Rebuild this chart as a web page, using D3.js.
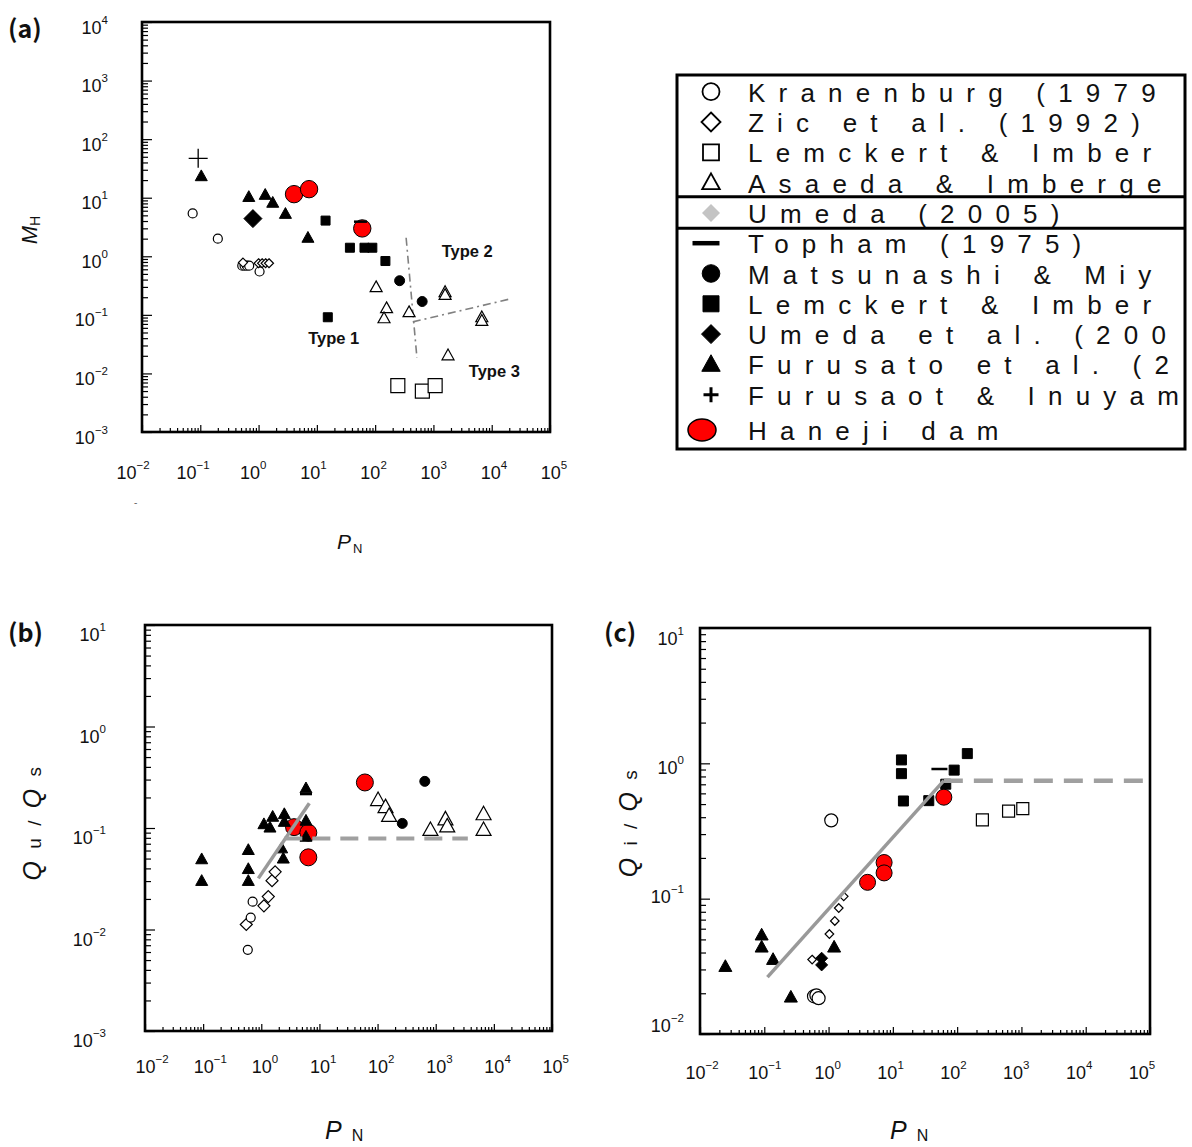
<!DOCTYPE html>
<html><head><meta charset="utf-8">
<script src="https://cdn.jsdelivr.net/npm/d3@7"></script>
<style>body{margin:0;background:#fff}svg{display:block}</style>
</head><body>
<svg id="chart" width="1192" height="1147"></svg>
<script>
// ---------------- DATA ----------------
// tick values
const xTicks = [1e-2, 1e-1, 1, 1e1, 1e2, 1e3, 1e4, 1e5];
const yTicksA = [1e-3, 1e-2, 1e-1, 1, 1e1, 1e2, 1e3, 1e4];
const yTicksB = [1e-3, 1e-2, 1e-1, 1, 1e1];
const yTicksC = [1e-2, 1e-1, 1, 1e1];

// Panel (a): M_H vs P_N
const a_kranenburg_x = [0.074, 0.20, 1.04, 0.525, 0.575, 0.63, 0.69];
const a_kranenburg_y = [5.4, 2.0, 0.55, 0.69, 0.69, 0.69, 0.69];
const a_zic_x = [0.54, 1.0, 1.15, 1.32, 1.51];
const a_zic_y = [0.78, 0.76, 0.76, 0.76, 0.76];
const a_lemckertO_x = [245, 646, 1070];
const a_lemckertO_y = [0.0062, 0.0050, 0.0062];
const a_asaeda_x = [104, 157, 142, 382, 1585, 1585, 6760, 6760, 1780];
const a_asaeda_y = [0.297, 0.130, 0.0875, 0.111, 0.245, 0.219, 0.091, 0.079, 0.0204];
const a_umedaEtAl_x = [0.80];
const a_umedaEtAl_y = [4.4];
const a_furusato_x = [0.104, 0.68, 1.30, 1.75, 2.89, 7.03];
const a_furusato_y = [23.3, 10.3, 11.2, 8.2, 5.3, 2.07];
const a_furusaotInuyama_x = [0.092];
const a_furusaotInuyama_y = [47];
const a_lemckertF_x = [14.1, 36.9, 65.6, 89.5, 150, 15.4];
const a_lemckertF_y = [4.07, 1.40, 1.40, 1.40, 0.83, 0.091];
const a_matsunashi_x = [263, 641];
const a_matsunashi_y = [0.383, 0.169];
const a_haneji_x = [4.06, 7.35, 60.1];
const a_haneji_y = [11.5, 14.0, 2.99];
const a_topham_x = [56];
const a_topham_y = [3.9];
const a_bound1_x = [340, 521];
const a_bound1_y = [2.07, 0.0186];
const a_bound2_x = [443, 20750];
const a_bound2_y = [0.0759, 0.187];
const a_type_text = ["Type 1", "Type 2", "Type 3"];
const a_type_x = [19.5, 3800, 11100];
const a_type_y = [0.0403, 1.23, 0.011];

// Panel (b): Qu/Qs vs P_N
const b_zic_x = [0.552, 1.11, 1.32, 1.53, 1.73];
const b_zic_y = [0.0112, 0.0171, 0.0211, 0.0303, 0.0370];
const b_kranenburg_x = [0.586, 0.658, 0.71];
const b_kranenburg_y = [0.0063, 0.0131, 0.0188];
const b_asaeda_x = [102, 137, 158, 811, 1469, 1578, 6650, 6650];
const b_asaeda_y = [0.189, 0.161, 0.132, 0.096, 0.122, 0.104, 0.137, 0.096];
const b_matsunashi_x = [266, 649];
const b_matsunashi_y = [0.111, 0.288];
const b_haneji_x = [3.66, 6.44, 6.44, 60.5];
const b_haneji_y = [0.102, 0.090, 0.0514, 0.281];
const b_furusato_x = [0.0944, 0.0944, 0.598, 0.598, 0.598, 1.11, 1.41, 1.57, 2.49, 2.49, 2.24, 2.39, 5.87, 5.87, 5.87];
const b_furusato_y = [0.0492, 0.0301, 0.0607, 0.0394, 0.0301, 0.109, 0.101, 0.129, 0.137, 0.115, 0.063, 0.050, 0.118, 0.082, 0.246];
const b_topham_x = [5.87];
const b_topham_y = [0.216];
const b_fit_x = [0.89, 6.7];
const b_fit_y = [0.0319, 0.175];
const b_const_x = [2.49, 3565];
const b_const_y = [0.079, 0.079];

// Panel (c): Qi/Qs vs P_N
const c_furusato_x = [0.0248, 0.091, 0.091, 0.137, 0.259, 1.22];
const c_furusato_y = [0.0315, 0.0538, 0.0438, 0.0355, 0.0187, 0.0438];
const c_kranenburg_x = [0.593, 0.646, 0.70, 1.10];
const c_kranenburg_y = [0.0190, 0.0193, 0.0184, 0.379];
const c_zic_x = [0.555, 1.03, 1.25, 1.44, 1.72];
const c_zic_y = [0.0355, 0.0548, 0.0684, 0.0853, 0.104];
const c_umedaEtAl_x = [0.78, 0.78];
const c_umedaEtAl_y = [0.0363, 0.0324];
const c_lemckertO_x = [247, 631, 1050];
const c_lemckertO_y = [0.382, 0.444, 0.462];
const c_lemckertF_x = [13.6, 13.6, 14.6, 36.2, 66.5, 89.9, 144];
const c_lemckertF_y = [1.06, 0.839, 0.527, 0.530, 0.701, 0.891, 1.18];
const c_haneji_x = [4.04, 7.31, 7.31, 62.1];
const c_haneji_y = [0.132, 0.185, 0.155, 0.562];
const c_topham_x = [53];
const c_topham_y = [0.908];
const c_fit_x = [0.112, 62.1];
const c_fit_y = [0.0263, 0.745];
const c_const_x = [62.1, 1e5];
const c_const_y = [0.745, 0.745];

// Legend (visible part of each entry)
const legendLabels = ["Kranenburg (1979", "Zic et al. (1992)", "Lemckert & Imber", "Asaeda & Imberge",
  "Umeda (2005)", "Topham (1975)", "Matsunashi & Miy", "Lemckert & Imber", "Umeda et al. (200",
  "Furusato et al. (2", "Furusaot & Inuyam", "Haneji dam"];
const legendKeys = ["openCircle", "openDiamond", "openSquare", "openTriangle", "grayDiamond", "bar",
  "filledCircle", "filledSquare", "filledDiamond", "filledTriangle", "plus", "haneji"];

// ---------------- STYLES / HELPERS ----------------
const STY = {
  openCircle:    {shape: "circle",   fill: "#fff", stroke: "#000", sw: 1.2},
  openDiamond:   {shape: "diamond",  fill: "#fff", stroke: "#000", sw: 1.2},
  openSquare:    {shape: "square",   fill: "#fff", stroke: "#000", sw: 1.2},
  openTriangle:  {shape: "triangle", fill: "#fff", stroke: "#000", sw: 1.2},
  grayDiamond:   {shape: "diamond",  fill: "#c4c4c4", stroke: "none", sw: 0},
  filledCircle:  {shape: "circle",   fill: "#000", stroke: "#000", sw: 1},
  filledSquare:  {shape: "square",   fill: "#000", stroke: "#000", sw: 1},
  filledDiamond: {shape: "diamond",  fill: "#000", stroke: "#000", sw: 1},
  filledTriangle:{shape: "triangle", fill: "#000", stroke: "#000", sw: 1},
  plus:          {shape: "plus",     fill: "none", stroke: "#000", sw: 1.3},
  bar:           {shape: "bar",      fill: "none", stroke: "#000", sw: 2.5},
  haneji:        {shape: "circle",   fill: "#ff0000", stroke: "#000", sw: 1}
};
function shapePath(shape, s) {
  switch (shape) {
    case "circle": return `M${-s},0a${s},${s} 0 1,0 ${2*s},0a${s},${s} 0 1,0 ${-2*s},0Z`;
    case "square": return `M${-s},${-s}H${s}V${s}H${-s}Z`;
    case "diamond": return `M0,${-s}L${s},0L0,${s}L${-s},0Z`;
    case "triangle": return `M0,${-s*1.05}L${s},${s*0.75}L${-s},${s*0.75}Z`;
    case "plus": return `M${-s},0H${s}M0,${-s}V${s}`;
    case "bar": return `M${-s},0H${s}`;
  }
}
const FONT = "'Liberation Sans', Arial, sans-serif";
const svg = d3.select("#chart").attr("font-family", FONT);
svg.append("rect").attr("width", 1192).attr("height", 1147).attr("fill", "#fff");

function expStr(v) {
  const e = Math.round(Math.log10(v));
  return e < 0 ? "\u2212" + Math.abs(e) : String(e);
}
function supLabel(g, x, y, v, anchor) {
  const t = g.append("text").attr("x", x).attr("y", y).attr("text-anchor", anchor)
    .attr("font-size", 18).attr("fill", "#111");
  t.append("tspan").text("10");
  t.append("tspan").attr("dy", -10).attr("font-size", 11.5).text(expStr(v));
}
function minorTicks(domain) {
  const out = [];
  const e0 = Math.round(Math.log10(domain[0])), e1 = Math.round(Math.log10(domain[1]));
  for (let e = e0; e < e1; e++) for (let k = 2; k <= 9; k++) out.push(k * Math.pow(10, e));
  return out;
}

function panel(cfg) {
  const g = svg.append("g");
  const xs = d3.scaleLog().domain([xTicks[0], xTicks[xTicks.length - 1]]).range([cfg.left, cfg.right]);
  const ys = d3.scaleLog().domain([cfg.yTicks[0], cfg.yTicks[cfg.yTicks.length - 1]]).range([cfg.bottom, cfg.top]);
  const axY = (vals, len) => g.append("g").attr("transform", `translate(${cfg.left},0)`)
    .call(d3.axisLeft(ys).tickValues(vals).tickSize(-len).tickFormat(""))
    .call(a => { a.select(".domain").remove(); a.selectAll("line").attr("stroke", "#000").attr("stroke-width", 1.2); });
  const axX = (vals, len) => g.append("g").attr("transform", `translate(0,${cfg.bottom})`)
    .call(d3.axisBottom(xs).tickValues(vals).tickSize(-len).tickFormat(""))
    .call(a => { a.select(".domain").remove(); a.selectAll("line").attr("stroke", "#000").attr("stroke-width", 1.2); });
  axY(minorTicks(ys.domain()), 6);
  axY(cfg.yTicks, 10);
  axX(minorTicks(xs.domain()), 4);
  axX(xTicks, 7);
  g.append("rect").attr("x", cfg.left).attr("y", cfg.top)
    .attr("width", cfg.right - cfg.left).attr("height", cfg.bottom - cfg.top)
    .attr("fill", "none").attr("stroke", "#000").attr("stroke-width", 2.6);
  xTicks.forEach(v => cfg.xLabel(g, xs, v));
  cfg.yTicks.forEach(v => cfg.yLabel(g, ys, v));
  const clip = "clip-" + cfg.id;
  g.append("clipPath").attr("id", clip).append("rect")
    .attr("x", cfg.left).attr("y", cfg.top).attr("width", cfg.right - cfg.left).attr("height", cfg.bottom - cfg.top);
  const plot = g.append("g").attr("clip-path", `url(#${clip})`);
  const drawLines = () => (cfg.lines || []).forEach(L => {
    plot.append("path").attr("d", d3.line().x(i => xs(L.x[i])).y(i => ys(L.y[i]))(d3.range(L.x.length)))
      .attr("fill", "none").attr("stroke", L.color).attr("stroke-width", L.width)
      .attr("stroke-dasharray", L.dash || null);
  });
  if (!cfg.linesOnTop) drawLines();
  cfg.series.forEach(S => {
    const st = STY[S.style];
    plot.append("g").selectAll("path").data(d3.range(S.x.length)).join("path")
      .attr("transform", i => `translate(${xs(S.x[i])},${ys(S.y[i])})`)
      .attr("d", shapePath(st.shape, S.size))
      .attr("fill", st.fill).attr("stroke", st.stroke).attr("stroke-width", S.sw || st.sw);
  });
  if (cfg.linesOnTop) drawLines();
  (cfg.notes || []).forEach(N => {
    g.append("text").attr("x", xs(N.x)).attr("y", ys(N.y) + 6).attr("text-anchor", "middle")
      .attr("font-size", 16.5).attr("font-weight", "bold").attr("fill", "#111").text(N.t);
  });
  return {g, xs, ys};
}

// ---------------- PANEL (a) ----------------
const xLabA = d3.scaleLog().domain([1e-2, 1e5]).range([133, 554]);
panel({
  id: "a", left: 142, right: 550, top: 22, bottom: 432, yTicks: yTicksA,
  xLabel: (g, xs, v) => supLabel(g, xLabA(v), 479, v, "middle"),
  yLabel: (g, ys, v) => supLabel(g, 108, ys(v) + 11.5, v, "end"),
  lines: [
    {x: a_bound1_x, y: a_bound1_y, color: "#808080", width: 1.6, dash: "8,4,2,4"},
    {x: a_bound2_x, y: a_bound2_y, color: "#808080", width: 1.6, dash: "8,4,2,4"}
  ],
  series: [
    {x: a_kranenburg_x, y: a_kranenburg_y, style: "openCircle", size: 4.5},
    {x: a_zic_x, y: a_zic_y, style: "openDiamond", size: 4.5},
    {x: a_lemckertO_x, y: a_lemckertO_y, style: "openSquare", size: 7},
    {x: a_asaeda_x, y: a_asaeda_y, style: "openTriangle", size: 6},
    {x: a_umedaEtAl_x, y: a_umedaEtAl_y, style: "filledDiamond", size: 9},
    {x: a_furusato_x, y: a_furusato_y, style: "filledTriangle", size: 6},
    {x: a_furusaotInuyama_x, y: a_furusaotInuyama_y, style: "plus", size: 9.5},
    {x: a_lemckertF_x, y: a_lemckertF_y, style: "filledSquare", size: 4.5},
    {x: a_matsunashi_x, y: a_matsunashi_y, style: "filledCircle", size: 5},
    {x: a_haneji_x, y: a_haneji_y, style: "haneji", size: 8.7},
    {x: a_topham_x, y: a_topham_y, style: "bar", size: 6.5}
  ],
  notes: a_type_text.map((t, i) => ({t, x: a_type_x[i], y: a_type_y[i]}))
});

// ---------------- PANEL (b) ----------------
panel({
  id: "b", left: 145, right: 552, top: 625, bottom: 1031, yTicks: yTicksB, linesOnTop: true,
  xLabel: (g, xs, v) => supLabel(g, xs(v) - 9.5, 1073, v, "start"),
  yLabel: (g, ys, v) => supLabel(g, 106, ys(v) + 16, v, "end"),
  lines: [
    {x: b_fit_x, y: b_fit_y, color: "#999999", width: 3.5},
    {x: b_const_x, y: b_const_y, color: "#a0a0a0", width: 4, dash: "18,10"}
  ],
  series: [
    {x: b_zic_x, y: b_zic_y, style: "openDiamond", size: 6},
    {x: b_kranenburg_x, y: b_kranenburg_y, style: "openCircle", size: 4.5},
    {x: b_asaeda_x, y: b_asaeda_y, style: "openTriangle", size: 7.5},
    {x: b_matsunashi_x, y: b_matsunashi_y, style: "filledCircle", size: 5},
    {x: b_haneji_x, y: b_haneji_y, style: "haneji", size: 8.5},
    {x: b_furusato_x, y: b_furusato_y, style: "filledTriangle", size: 6},
    {x: b_topham_x, y: b_topham_y, style: "bar", size: 6}
  ]
});

// ---------------- PANEL (c) ----------------
const xLabC = d3.scaleLog().domain([1e-2, 1e5]).range([702, 1142]);
const yLabC = d3.scaleLog().domain([1e-2, 1e1]).range([1025.6, 638.6]);
panel({
  id: "c", left: 700, right: 1150, top: 628, bottom: 1034, yTicks: yTicksC, linesOnTop: true,
  xLabel: (g, xs, v) => supLabel(g, xLabC(v), 1079, v, "middle"),
  yLabel: (g, ys, v) => supLabel(g, 684, yLabC(v) + 6.5, v, "end"),
  lines: [
    {x: c_fit_x, y: c_fit_y, color: "#999999", width: 3.5},
    {x: c_const_x, y: c_const_y, color: "#a0a0a0", width: 4.5, dash: "19,11"}
  ],
  series: [
    {x: c_furusato_x, y: c_furusato_y, style: "filledTriangle", size: 6.5},
    {x: c_kranenburg_x, y: c_kranenburg_y, style: "openCircle", size: 6.5},
    {x: c_zic_x, y: c_zic_y, style: "openDiamond", size: 4.3},
    {x: c_umedaEtAl_x, y: c_umedaEtAl_y, style: "filledDiamond", size: 6},
    {x: c_lemckertO_x, y: c_lemckertO_y, style: "openSquare", size: 6},
    {x: c_lemckertF_x, y: c_lemckertF_y, style: "filledSquare", size: 5},
    {x: c_haneji_x, y: c_haneji_y, style: "haneji", size: 8},
    {x: c_topham_x, y: c_topham_y, style: "bar", size: 8}
  ]
});

// ---------------- TITLES / PANEL LABELS ----------------
function panelLetter(x, y, t) {
  svg.append("text").attr("x", x).attr("y", y).attr("font-size", 25).attr("font-weight", "bold")
    .attr("fill", "#111").attr("font-family", "'Noto Sans CJK JP', " + FONT).text(t);
}
panelLetter(8, 38, "(a)");
panelLetter(8, 642, "(b)");
panelLetter(604, 642, "(c)");

// (a) y title M_H
{
  const t = svg.append("text").attr("transform", "translate(37,230) rotate(-90)")
    .attr("text-anchor", "middle").attr("fill", "#111");
  t.append("tspan").attr("font-size", 22).attr("font-style", "italic").text("M");
  t.append("tspan").attr("font-size", 14).attr("dy", 3).text("H");
}
// (a) x title P_N
{
  const t = svg.append("text").attr("x", 337).attr("y", 549).attr("fill", "#111");
  t.append("tspan").attr("font-size", 21).attr("font-style", "italic").text("P");
  t.append("tspan").attr("font-size", 13).attr("dx", 2).attr("dy", 4).text("N");
}
svg.append("text").attr("x", 134).attr("y", 506).attr("font-size", 10).attr("fill", "#666").text("-");

function qTitle(x, y, sub) {
  const t = svg.append("text").attr("transform", `translate(${x},${y}) rotate(-90)`)
    .attr("text-anchor", "middle").attr("fill", "#111").attr("letter-spacing", 3.5);
  t.append("tspan").attr("font-size", 25).attr("font-style", "italic").text("Q");
  t.append("tspan").attr("font-size", 19).text(" " + sub + " / ");
  t.append("tspan").attr("font-size", 25).attr("font-style", "italic").text("Q");
  t.append("tspan").attr("font-size", 19).text(" s");
}
qTitle(41, 822, "u");
qTitle(637, 822, "i");

function pTitle(x, y) {
  const t = svg.append("text").attr("x", x).attr("y", y).attr("fill", "#111");
  t.append("tspan").attr("font-size", 25).attr("font-style", "italic").text("P");
  t.append("tspan").attr("font-size", 16).attr("dx", 10).attr("dy", 2).text("N");
}
pTitle(325, 1139);
pTitle(890, 1139);

// ---------------- LEGEND ----------------
{
  const L = {left: 677, right: 1185, top: 75, bottom: 449, sep: [196.7, 228.3]};
  const lg = svg.append("g");
  lg.append("rect").attr("x", L.left).attr("y", L.top).attr("width", L.right - L.left)
    .attr("height", L.bottom - L.top).attr("fill", "#fff");
  lg.append("clipPath").attr("id", "legclip").append("rect")
    .attr("x", L.left).attr("y", L.top).attr("width", L.right - L.left).attr("height", L.bottom - L.top);
  const rowY = i => 91.7 + i * 30.3 + (i === 11 ? 5 : 0);
  const symSize = {openCircle: 8.5, openDiamond: 9.5, openSquare: 8, openTriangle: 8.8, grayDiamond: 9,
    bar: 13.5, filledCircle: 8.8, filledSquare: 8, filledDiamond: 9.5, filledTriangle: 9.2, plus: 7.5};
  legendKeys.forEach((k, i) => {
    const y = rowY(i);
    if (k === "haneji") {
      lg.append("ellipse").attr("cx", 702).attr("cy", y).attr("rx", 14).attr("ry", 11)
        .attr("fill", "#ff0000").attr("stroke", "#000").attr("stroke-width", 1.5);
    } else {
      const st = STY[k];
      let sw = st.sw;
      if (k === "bar") sw = 4.5; else if (k === "plus") sw = 3; else if (st.fill === "#fff") sw = 1.8;
      lg.append("path").attr("transform", `translate(${k === "bar" ? 706 : 711},${y})`)
        .attr("d", shapePath(st.shape, symSize[k]))
        .attr("fill", st.fill).attr("stroke", st.stroke).attr("stroke-width", sw);
    }
    lg.append("text").attr("clip-path", "url(#legclip)").attr("x", 748).attr("y", y + 10)
      .attr("font-size", 26).attr("letter-spacing", 13.2).attr("fill", "#111").text(legendLabels[i]);
  });
  L.sep.forEach(y => lg.append("line").attr("x1", L.left).attr("x2", L.right).attr("y1", y).attr("y2", y)
    .attr("stroke", "#000").attr("stroke-width", 3));
  lg.append("rect").attr("x", L.left).attr("y", L.top).attr("width", L.right - L.left)
    .attr("height", L.bottom - L.top).attr("fill", "none").attr("stroke", "#000").attr("stroke-width", 3);
}
</script>
</body></html>
